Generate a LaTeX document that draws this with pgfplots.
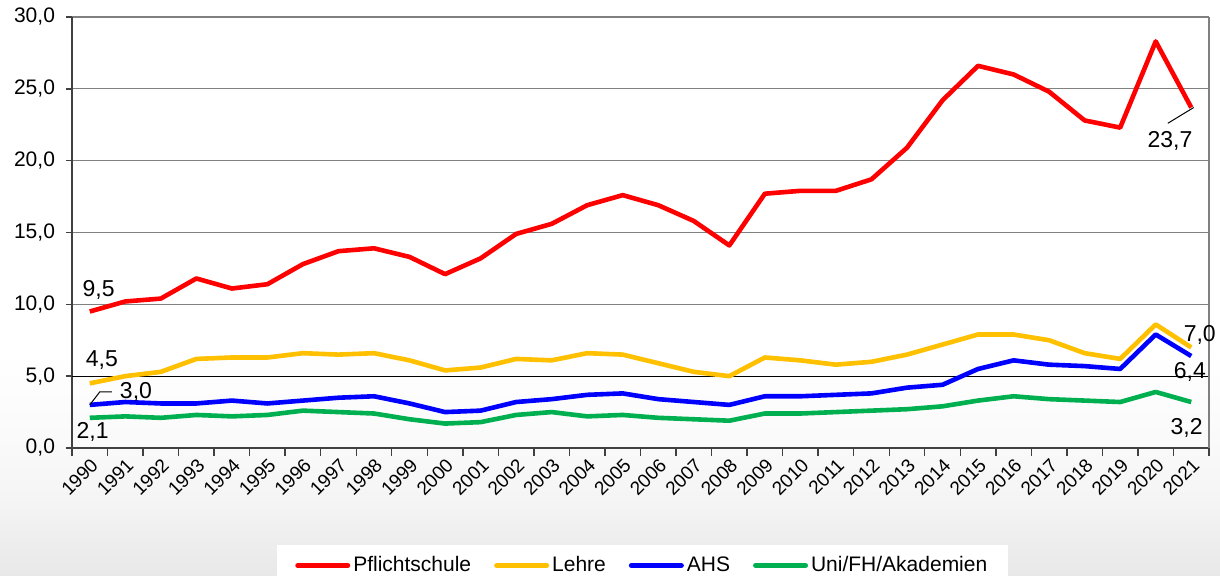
\documentclass[border=0pt]{standalone}
\usepackage{fontspec}
\setmainfont{Liberation Sans}
\usepackage{pgfplots}
\pgfplotsset{compat=1.18}

\definecolor{cRed}{HTML}{FF0000}
\definecolor{cYellow}{HTML}{FFC000}
\definecolor{cBlue}{HTML}{0000FF}
\definecolor{cGreen}{HTML}{00B050}
\definecolor{gridgray}{HTML}{808080}
\definecolor{axisdark}{HTML}{404040}

\pgfdeclareverticalshading{bgshade}{100bp}{color(0bp)=(black!9); color(25bp)=(black!9); color(31.6bp)=(black!4); color(36.8bp)=(black!2); color(44.6bp)=(white); color(100bp)=(white)}

\begin{document}
\begin{tikzpicture}
\shade[shading=bgshade] (-36pt,-64pt) rectangle (574pt,224pt);
\begin{axis}[
    at={(0pt,0pt)}, anchor=south west,
    scale only axis, width=568.5pt, height=215.5pt,
    xmin=-0.5, xmax=31.5, ymin=0, ymax=30,
    axis lines*=left,
    axis line style={axisdark, line width=0.9pt},
    xtick={0,...,31},
    xticklabels={1990,1991,1992,1993,1994,1995,1996,1997,1998,1999,2000,2001,2002,2003,2004,2005,2006,2007,2008,2009,2010,2011,2012,2013,2014,2015,2016,2017,2018,2019,2020,2021},
    minor xtick={-0.5,0.5,...,31.5},
    major tick length=3pt, minor tick length=4pt,
    tick align=outside,
    x tick style={draw=none},
    minor x tick style={draw=axisdark, line width=0.7pt},
    y tick style={draw=axisdark, line width=0.7pt},
    xticklabel style={rotate=45, anchor=north east, font=\fontsize{9.5}{11}\selectfont, inner sep=1pt},
    ytick={0,5,...,30},
    yticklabel style={font=\fontsize{10.5}{12}\selectfont, xshift=-2pt, /pgf/number format/.cd, fixed, fixed zerofill, precision=1, use comma},
    /pgf/number format/assume math mode=true,
    ymajorgrids=true,
    grid style={gridgray, line width=0.6pt},
    legend style={at={(0.502,-0.225)}, anchor=north, legend columns=4, draw=none, fill=white,
        font=\fontsize{10.5}{12}\selectfont, inner xsep=9pt, inner ysep=3.5pt,
        /tikz/every even column/.append style={column sep=10pt},
        nodes={inner xsep=1.5pt}},
    legend image code/.code={\draw[#1, line width=2.5pt, line cap=round] (0pt,0pt) -- (25pt,0pt);},
    every axis plot/.append style={line width=2.3pt, line join=round, no markers},
    clip=false,
]
\draw[black, line width=0.5pt] (axis cs:-0.5,5) -- (axis cs:31.5,5);
\draw[gridgray, line width=1pt] (rel axis cs:1,0) -- (rel axis cs:1,1);

\addplot[cRed] coordinates {
(0,9.5)(1,10.2)(2,10.4)(3,11.8)(4,11.1)(5,11.4)(6,12.8)(7,13.7)(8,13.9)(9,13.3)
(10,12.1)(11,13.2)(12,14.9)(13,15.6)(14,16.9)(15,17.6)(16,16.9)(17,15.8)(18,14.1)(19,17.7)
(20,17.9)(21,17.9)(22,18.7)(23,20.9)(24,24.2)(25,26.6)(26,26.0)(27,24.8)(28,22.8)(29,22.3)
(30,28.3)(31,23.7)};
\addlegendentry{Pflichtschule}
\addplot[cYellow] coordinates {
(0,4.5)(1,5.0)(2,5.3)(3,6.2)(4,6.3)(5,6.3)(6,6.6)(7,6.5)(8,6.6)(9,6.1)
(10,5.4)(11,5.6)(12,6.2)(13,6.1)(14,6.6)(15,6.5)(16,5.9)(17,5.3)(18,5.0)(19,6.3)
(20,6.1)(21,5.8)(22,6.0)(23,6.5)(24,7.2)(25,7.9)(26,7.9)(27,7.5)(28,6.6)(29,6.2)
(30,8.6)(31,7.0)};
\addlegendentry{Lehre}
\addplot[cBlue] coordinates {
(0,3.0)(1,3.2)(2,3.1)(3,3.1)(4,3.3)(5,3.1)(6,3.3)(7,3.5)(8,3.6)(9,3.1)
(10,2.5)(11,2.6)(12,3.2)(13,3.4)(14,3.7)(15,3.8)(16,3.4)(17,3.2)(18,3.0)(19,3.6)
(20,3.6)(21,3.7)(22,3.8)(23,4.2)(24,4.4)(25,5.5)(26,6.1)(27,5.8)(28,5.7)(29,5.5)
(30,7.9)(31,6.4)};
\addlegendentry{AHS}
\addplot[cGreen] coordinates {
(0,2.1)(1,2.2)(2,2.1)(3,2.3)(4,2.2)(5,2.3)(6,2.6)(7,2.5)(8,2.4)(9,2.0)
(10,1.7)(11,1.8)(12,2.3)(13,2.5)(14,2.2)(15,2.3)(16,2.1)(17,2.0)(18,1.9)(19,2.4)
(20,2.4)(21,2.5)(22,2.6)(23,2.7)(24,2.9)(25,3.3)(26,3.6)(27,3.4)(28,3.3)(29,3.2)
(30,3.9)(31,3.2)};
\addlegendentry{Uni/FH/Akademien}

% data labels
\begin{scope}[every node/.style={font=\fontsize{11.5}{13}\selectfont, inner sep=0pt}]
\node at (axis cs:0.25,11.0) {9,5};
\node at (axis cs:0.34,6.12) {4,5};
\node at (axis cs:1.3,3.9) {3,0};
\node at (axis cs:0.08,1.1) {2,1};
\node at (axis cs:30.4,21.4) {23,7};
\node at (axis cs:31.24,7.9) {7,0};
\node at (axis cs:30.96,5.3) {6,4};
\node at (axis cs:30.87,1.4) {3,2};
\end{scope}
\draw[black, line width=0.5pt] (axis cs:0,3.0) -- (axis cs:0.28,3.9) -- (axis cs:0.62,3.9);
\draw[black, line width=0.5pt] (axis cs:30.34,22.6) -- (axis cs:31.07,23.7);
\end{axis}
\pgfresetboundingbox
\useasboundingbox (-36pt,-64pt) rectangle (574pt,224pt);
\end{tikzpicture}
\end{document}
